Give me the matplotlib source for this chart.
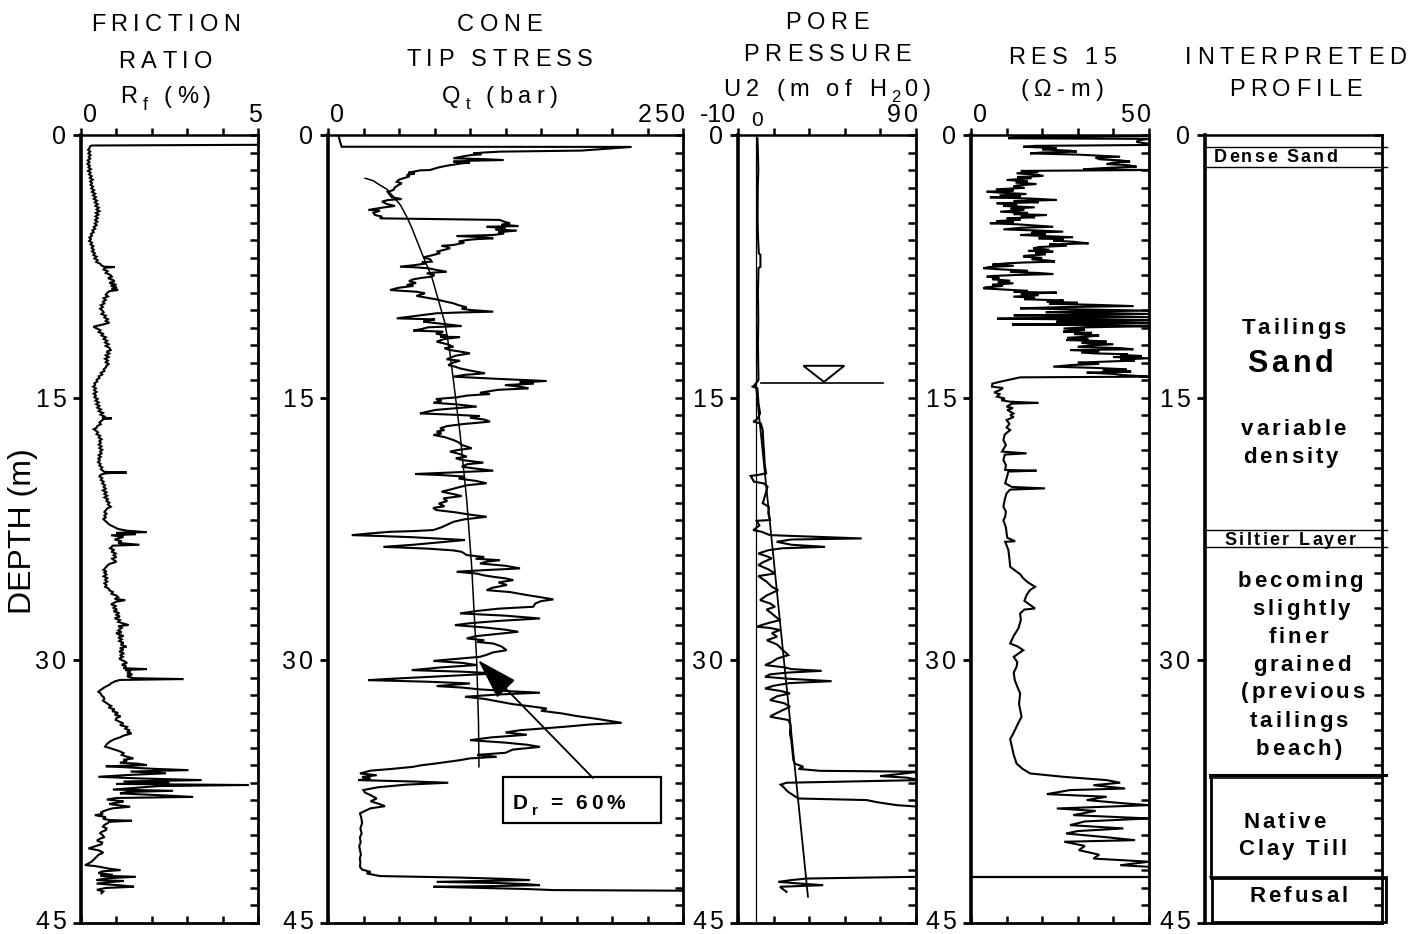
import matplotlib
matplotlib.use("Agg")
import matplotlib.pyplot as plt
from matplotlib.ticker import MultipleLocator, FixedLocator, NullFormatter
from matplotlib.patches import Rectangle, Polygon
from matplotlib.transforms import IdentityTransform, blended_transform_factory
from matplotlib.font_manager import FontProperties, findfont
from matplotlib import ft2font

FAMILY = ['Liberation Sans', 'DejaVu Sans']
plt.rcParams['font.family'] = FAMILY

# ------------------------------------------------------------------
# CPT sounding data: (depth m, value)
# ------------------------------------------------------------------
friction_ratio = [
    (0.50, 5.6), (0.56, 5.0), (0.60, 0.30), (0.66, 0.25), (0.76, 0.24), (0.85, 0.20), (0.95, 0.26),
    (1.05, 0.21), (1.15, 0.27), (1.25, 0.22), (1.35, 0.26), (1.45, 0.19), (1.55, 0.24), (1.65, 0.18),
    (1.75, 0.25), (1.85, 0.21), (1.95, 0.28), (2.05, 0.20), (2.15, 0.27), (2.25, 0.23), (2.35, 0.30),
    (2.45, 0.25), (2.55, 0.33), (2.65, 0.26), (2.75, 0.31), (2.85, 0.27), (2.95, 0.34), (3.05, 0.29),
    (3.15, 0.37), (3.25, 0.31), (3.35, 0.40), (3.45, 0.34), (3.55, 0.42), (3.65, 0.36), (3.75, 0.45),
    (3.85, 0.39), (3.95, 0.47), (4.05, 0.41), (4.15, 0.50), (4.25, 0.44), (4.35, 0.52), (4.45, 0.42),
    (4.55, 0.49), (4.65, 0.41), (4.75, 0.47), (4.85, 0.40), (4.95, 0.46), (5.05, 0.39), (5.15, 0.44),
    (5.25, 0.36), (5.35, 0.40), (5.45, 0.32), (5.55, 0.36), (5.65, 0.28), (5.75, 0.31), (5.85, 0.24),
    (5.95, 0.28), (6.05, 0.23), (6.15, 0.31), (6.25, 0.27), (6.35, 0.35), (6.45, 0.30), (6.55, 0.36),
    (6.65, 0.31), (6.75, 0.39), (6.85, 0.35), (6.95, 0.44), (7.05, 0.38), (7.15, 0.47), (7.25, 0.43),
    (7.35, 0.54), (7.45, 0.58), (7.52, 0.65), (7.54, 0.95), (7.58, 0.68), (7.68, 0.64), (7.78, 0.75),
    (7.88, 0.70), (7.98, 0.82), (8.09, 0.87), (8.18, 0.76), (8.28, 0.90), (8.35, 0.95), (8.45, 0.80),
    (8.55, 1.00), (8.62, 0.84), (8.72, 1.02), (8.80, 0.86), (8.85, 1.05), (8.92, 0.80), (9.02, 0.74),
    (9.12, 0.70), (9.22, 0.76), (9.32, 0.64), (9.42, 0.70), (9.52, 0.62), (9.62, 0.66), (9.72, 0.56),
    (9.82, 0.62), (9.92, 0.54), (10.02, 0.60), (10.12, 0.64), (10.22, 0.58), (10.32, 0.70),
    (10.42, 0.66), (10.52, 0.76), (10.62, 0.70), (10.72, 0.80), (10.80, 0.66), (10.88, 0.50),
    (10.95, 0.35), (11.05, 0.45), (11.15, 0.55), (11.25, 0.50), (11.35, 0.62), (11.45, 0.58),
    (11.55, 0.70), (11.65, 0.64), (11.75, 0.74), (11.85, 0.68), (11.95, 0.78), (12.05, 0.70),
    (12.15, 0.80), (12.28, 0.84), (12.38, 0.72), (12.48, 0.80), (12.58, 0.70), (12.68, 0.78),
    (12.78, 0.68), (12.88, 0.76), (12.98, 0.70), (13.08, 0.78), (13.18, 0.72), (13.28, 0.70),
    (13.38, 0.64), (13.48, 0.66), (13.58, 0.56), (13.68, 0.60), (13.78, 0.50), (13.88, 0.52),
    (13.98, 0.44), (14.08, 0.46), (14.18, 0.38), (14.28, 0.40), (14.37, 0.34), (14.47, 0.42),
    (14.57, 0.37), (14.67, 0.44), (14.77, 0.36), (14.87, 0.42), (14.97, 0.38), (15.07, 0.47),
    (15.17, 0.41), (15.27, 0.50), (15.37, 0.43), (15.47, 0.52), (15.57, 0.46), (15.67, 0.56),
    (15.77, 0.50), (15.87, 0.62), (15.97, 0.55), (16.07, 0.66), (16.15, 0.60), (16.18, 0.87),
    (16.22, 0.64), (16.32, 0.58), (16.42, 0.52), (16.52, 0.56), (16.62, 0.46), (16.72, 0.44),
    (16.80, 0.36), (16.88, 0.42), (16.98, 0.48), (17.08, 0.44), (17.18, 0.54), (17.28, 0.50),
    (17.38, 0.58), (17.48, 0.52), (17.58, 0.56), (17.68, 0.50), (17.78, 0.58), (17.88, 0.52),
    (17.98, 0.60), (18.08, 0.54), (18.18, 0.58), (18.28, 0.50), (18.38, 0.56), (18.48, 0.49),
    (18.58, 0.53), (18.68, 0.48), (18.78, 0.55), (18.88, 0.52), (18.98, 0.60), (19.08, 0.56),
    (19.18, 0.62), (19.24, 0.66), (19.27, 1.29), (19.32, 0.70), (19.40, 0.56), (19.50, 0.52),
    (19.60, 0.60), (19.70, 0.56), (19.80, 0.64), (19.90, 0.60), (20.00, 0.68), (20.10, 0.64),
    (20.20, 0.70), (20.30, 0.62), (20.40, 0.72), (20.50, 0.66), (20.60, 0.74), (20.70, 0.66),
    (20.80, 0.76), (20.90, 0.72), (21.00, 0.80), (21.10, 0.76), (21.23, 0.84), (21.33, 0.74),
    (21.43, 0.70), (21.53, 0.66), (21.63, 0.72), (21.73, 0.66), (21.83, 0.70), (21.93, 0.63),
    (21.99, 0.66), (22.1, 0.72), (22.25, 0.80), (22.37, 0.92), (22.5, 1.05), (22.6, 1.30),
    (22.68, 1.85), (22.72, 1.00), (22.8, 1.55), (22.86, 0.85), (22.95, 1.20), (23.1, 0.95),
    (23.2, 1.15), (23.3, 1.05), (23.4, 1.65), (23.45, 0.90), (23.6, 0.82), (23.7, 0.94), (23.8, 0.86),
    (23.9, 0.98), (24.0, 0.92), (24.1, 1.00), (24.2, 0.88), (24.37, 1.00), (24.5, 0.80), (24.6, 0.74),
    (24.7, 0.70), (24.84, 0.63), (24.92, 0.72), (25.0, 0.66), (25.1, 0.72), (25.2, 0.64), (25.3, 0.74),
    (25.4, 0.68), (25.5, 0.74), (25.6, 0.66), (25.7, 0.72), (25.8, 0.68), (25.9, 0.78), (26.0, 0.80),
    (26.1, 0.90), (26.2, 0.86), (26.3, 1.00), (26.4, 1.05), (26.5, 0.95), (26.56, 1.25), (26.65, 1.00),
    (26.75, 0.90), (26.8, 0.85), (26.9, 0.98), (27.0, 0.92), (27.1, 1.02), (27.2, 0.92), (27.3, 1.08),
    (27.4, 1.00), (27.5, 1.10), (27.6, 0.95), (27.7, 1.10), (27.8, 1.05), (27.9, 1.20), (27.98, 1.34),
    (28.05, 1.05), (28.15, 1.15), (28.3, 1.05), (28.4, 1.15), (28.45, 0.99), (28.55, 1.10),
    (28.6, 1.20), (28.7, 1.05), (28.8, 1.15), (28.9, 1.08), (29.0, 1.20), (29.1, 1.12), (29.22, 1.29),
    (29.3, 1.10), (29.4, 1.20), (29.5, 1.08), (29.6, 1.22), (29.7, 1.10), (29.8, 1.18), (29.9, 1.08),
    (29.98, 1.15), (30.08, 1.25), (30.15, 1.30), (30.25, 1.15), (30.35, 1.28), (30.45, 1.20),
    (30.5, 1.86), (30.55, 1.25), (30.65, 1.40), (30.75, 1.30), (30.8, 1.45), (30.9, 1.30),
    (30.95, 1.35), (31.02, 1.50), (31.07, 2.89), (31.12, 1.10), (31.2, 0.96), (31.3, 0.86),
    (31.4, 0.80), (31.5, 0.70), (31.6, 0.62), (31.7, 0.55), (31.8, 0.49), (31.9, 0.56), (32.0, 0.58),
    (32.1, 0.64), (32.2, 0.66), (32.3, 0.62), (32.45, 0.73), (32.55, 0.80), (32.6, 0.85), (32.7, 0.78),
    (32.8, 0.95), (32.9, 0.88), (33.0, 1.05), (33.1, 0.95), (33.2, 1.12), (33.3, 1.00), (33.4, 0.98),
    (33.5, 1.08), (33.6, 1.20), (33.7, 1.10), (33.8, 1.30), (33.9, 1.25), (34.0, 1.38), (34.1, 1.30),
    (34.17, 1.43), (34.3, 1.20), (34.4, 1.10), (34.5, 0.95), (34.6, 0.85), (34.7, 0.78), (34.8, 0.72),
    (34.93, 0.68), (35.0, 0.80), (35.1, 0.95), (35.2, 1.10), (35.3, 1.20), (35.4, 1.15), (35.5, 1.29),
    (35.6, 1.48), (35.68, 1.20), (35.75, 1.30), (35.85, 1.10), (35.9, 1.60), (35.98, 1.86),
    (36.05, 0.70), (36.1, 1.20), (36.2, 2.10), (36.27, 3.03), (36.35, 1.40), (36.45, 2.40),
    (36.55, 1.30), (36.65, 0.49), (36.74, 1.60), (36.84, 3.41), (36.92, 1.20), (37.0, 2.50),
    (37.06, 1.00), (37.12, 4.73), (37.18, 2.20), (37.3, 1.40), (37.38, 0.90), (37.45, 2.60),
    (37.52, 1.30), (37.6, 1.10), (37.7, 2.20), (37.8, 3.17), (37.86, 1.00), (37.95, 0.73),
    (38.05, 1.20), (38.1, 1.10), (38.2, 0.80), (38.25, 0.95), (38.36, 1.39), (38.45, 0.90),
    (38.5, 0.80), (38.6, 0.65), (38.7, 0.55), (38.78, 0.62), (38.84, 0.39), (38.95, 0.70),
    (39.05, 0.62), (39.12, 0.80), (39.16, 1.43), (39.22, 0.80), (39.3, 0.75), (39.4, 0.66),
    (39.5, 0.62), (39.6, 0.72), (39.7, 0.70), (39.8, 0.58), (39.87, 0.54), (40.0, 0.62), (40.1, 0.65),
    (40.2, 0.52), (40.3, 0.45), (40.4, 0.60), (40.5, 0.58), (40.62, 0.40), (40.74, 0.21),
    (40.85, 0.50), (40.98, 0.63), (41.1, 0.50), (41.2, 0.45), (41.3, 0.40), (41.4, 0.35),
    (41.5, 0.30), (41.55, 0.25), (41.62, 0.20), (41.69, 0.11), (41.75, 0.40), (41.8, 0.55),
    (41.9, 0.80), (41.98, 1.12), (42.05, 0.60), (42.15, 0.49), (42.25, 0.90), (42.3, 0.55),
    (42.36, 1.55), (42.45, 0.70), (42.55, 0.44), (42.6, 1.20), (42.65, 0.90), (42.75, 0.44),
    (42.85, 1.10), (42.93, 1.50), (43.0, 0.70), (43.1, 0.45), (43.2, 0.63), (43.3, 0.58),
]

cone_tip = [
    (0.00, 7.3), (0.38, 8.5), (0.67, 9.6), (0.68, 213.8), (0.89, 178.6), (0.95, 121.1), (1.00, 110.0),
    (1.05, 102.3), (1.10, 108.0), (1.14, 101.2), (1.22, 95.0), (1.33, 88.3), (1.38, 110.0),
    (1.43, 123.5), (1.47, 100.0), (1.52, 88.3), (1.58, 100.0), (1.62, 94.1), (1.75, 84.0),
    (1.85, 78.0), (2.00, 71.8), (2.02, 64.8), (2.10, 60.0), (2.15, 56.6), (2.20, 61.0), (2.28, 55.4),
    (2.36, 57.5), (2.47, 53.1), (2.55, 50.0), (2.67, 48.4), (2.76, 52.0), (2.86, 49.5), (3.00, 47.0),
    (3.14, 46.0), (3.25, 42.0), (3.43, 43.7), (3.55, 45.0), (3.66, 51.9), (3.71, 42.5), (3.80, 38.0),
    (3.94, 41.3), (4.05, 47.2), (4.15, 38.0), (4.28, 28.4), (4.32, 36.6), (4.45, 32.0), (4.57, 33.1),
    (4.66, 38.0), (4.76, 36.6), (4.85, 121.1), (4.95, 124.0), (5.04, 128.2), (5.12, 122.0),
    (5.20, 134.0), (5.24, 111.7), (5.32, 125.0), (5.40, 118.0), (5.46, 132.9), (5.55, 120.0),
    (5.63, 124.0), (5.71, 116.4), (5.77, 90.6), (5.84, 110.0), (5.90, 116.4), (5.95, 104.0),
    (6.00, 97.7), (6.08, 92.0), (6.15, 96.0), (6.28, 88.3), (6.33, 80.0), (6.38, 83.6), (6.47, 86.0),
    (6.57, 81.2), (6.66, 76.5), (6.75, 79.0), (6.85, 74.2), (6.93, 70.0), (6.99, 67.1), (7.10, 72.0),
    (7.23, 73.0), (7.28, 66.0), (7.33, 69.5), (7.42, 62.0), (7.52, 50.7), (7.56, 62.0), (7.61, 70.7),
    (7.70, 76.0), (7.81, 83.6), (7.86, 74.0), (7.90, 69.5), (8.00, 75.0), (8.09, 73.0), (8.16, 66.0),
    (8.24, 60.1), (8.35, 57.0), (8.45, 62.0), (8.57, 55.4), (8.62, 60.1), (8.72, 50.0), (8.85, 43.7),
    (8.90, 52.0), (8.95, 62.4), (9.04, 68.3), (9.12, 65.0), (9.19, 62.4), (9.30, 70.0), (9.39, 76.5),
    (9.50, 82.0), (9.61, 88.3), (9.72, 92.0), (9.84, 97.7), (9.92, 94.0), (9.99, 100.0),
    (10.09, 116.4), (10.13, 95.0), (10.18, 76.5), (10.30, 65.0), (10.40, 55.0), (10.47, 48.4),
    (10.53, 75.4), (10.60, 70.0), (10.66, 67.1), (10.78, 80.0), (10.91, 94.1), (10.98, 70.7),
    (11.08, 66.0), (11.17, 60.1), (11.23, 81.2), (11.35, 76.0), (11.45, 84.0), (11.52, 78.9),
    (11.54, 93.0), (11.65, 82.0), (11.80, 76.5), (11.95, 84.0), (12.09, 88.3), (12.18, 82.0),
    (12.28, 85.9), (12.38, 94.0), (12.47, 100.0), (12.60, 90.0), (12.72, 86.0), (12.81, 83.6),
    (12.89, 93.0), (13.00, 88.0), (13.14, 84.7), (13.24, 90.0), (13.33, 93.0), (13.45, 100.0),
    (13.61, 110.6), (13.70, 96.0), (13.80, 88.3), (13.92, 118.0), (14.05, 154.0), (14.12, 135.0),
    (14.20, 145.0), (14.28, 124.6), (14.38, 136.0), (14.47, 141.1), (14.55, 120.0), (14.65, 112.0),
    (14.72, 107.0), (14.79, 114.1), (14.88, 98.0), (14.98, 90.6), (15.08, 76.0), (15.18, 80.0),
    (15.29, 74.2), (15.38, 90.0), (15.51, 104.7), (15.60, 90.0), (15.70, 76.0), (15.80, 70.0),
    (15.90, 64.8), (15.98, 90.0), (16.05, 107.0), (16.15, 100.0), (16.25, 110.0), (16.37, 114.1),
    (16.50, 96.0), (16.62, 84.0), (16.75, 78.9), (16.85, 82.0), (16.94, 76.5), (17.05, 80.0),
    (17.13, 74.2), (17.25, 82.0), (17.42, 88.3), (17.55, 92.0), (17.70, 94.1), (17.80, 98.0),
    (17.89, 101.2), (17.98, 92.0), (18.08, 85.9), (18.20, 92.0), (18.37, 97.7), (18.46, 90.0),
    (18.56, 94.1), (18.64, 102.0), (18.71, 109.4), (18.80, 98.0), (18.94, 94.1), (19.05, 104.0),
    (19.17, 116.4), (19.26, 90.0), (19.36, 61.3), (19.42, 80.0), (19.51, 96.5), (19.62, 92.0),
    (19.75, 104.0), (19.89, 111.7), (20.00, 98.0), (20.12, 92.0), (20.25, 86.0), (20.37, 80.0),
    (20.50, 88.0), (20.62, 94.1), (20.70, 86.0), (20.75, 81.2), (20.90, 84.0), (21.05, 78.0),
    (21.20, 82.0), (21.30, 74.0), (21.42, 76.5), (21.55, 90.0), (21.68, 100.0), (21.80, 111.7),
    (21.95, 96.0), (22.09, 88.3), (22.25, 84.0), (22.40, 80.0), (22.56, 74.2), (22.62, 60.0),
    (22.66, 43.7), (22.75, 30.0), (22.85, 16.7), (22.90, 36.6), (22.97, 60.0), (23.04, 76.5),
    (23.13, 96.5), (23.25, 80.0), (23.40, 60.0), (23.52, 39.0), (23.62, 70.0), (23.72, 88.0),
    (23.80, 94.1), (23.99, 97.7), (24.10, 110.0), (24.20, 104.0), (24.28, 121.1), (24.36, 112.0),
    (24.47, 107.0), (24.60, 125.0), (24.75, 135.2), (24.85, 110.0), (24.94, 90.6), (25.05, 105.0),
    (25.15, 110.0), (25.23, 116.4), (25.32, 125.0), (25.42, 130.5), (25.55, 120.0), (25.70, 126.0),
    (25.85, 116.0), (25.99, 111.7), (26.10, 128.0), (26.27, 139.9), (26.40, 150.0), (26.52, 158.7),
    (26.62, 150.0), (26.75, 146.0), (26.94, 144.6), (27.05, 120.0), (27.18, 105.0), (27.32, 93.0),
    (27.45, 125.0), (27.61, 149.3), (27.75, 120.0), (27.88, 100.0), (27.99, 89.4), (28.12, 110.0),
    (28.25, 125.0), (28.37, 134.0), (28.50, 118.0), (28.62, 104.0), (28.75, 97.7), (28.85, 110.0),
    (28.95, 105.0), (29.04, 116.4), (29.20, 122.0), (29.42, 125.8), (29.55, 116.0), (29.68, 112.0),
    (29.80, 107.0), (29.92, 90.0), (30.03, 74.2), (30.15, 95.0), (30.27, 104.7), (30.40, 80.0),
    (30.56, 58.9), (30.65, 95.0), (30.75, 118.8), (30.85, 95.0), (30.95, 70.0), (31.05, 45.0),
    (31.13, 28.4), (31.22, 70.0), (31.32, 100.0), (31.40, 88.0), (31.47, 76.5), (31.56, 95.0),
    (31.66, 107.0), (31.75, 125.0), (31.85, 149.3), (31.95, 120.0), (32.08, 96.5), (32.20, 110.0),
    (32.37, 121.1), (32.50, 130.0), (32.62, 142.0), (32.75, 154.0), (32.88, 150.0), (33.03, 164.6),
    (33.18, 175.0), (33.35, 190.0), (33.57, 206.8), (33.66, 185.0), (33.80, 165.7), (33.90, 150.0),
    (33.99, 135.2), (34.12, 125.0), (34.25, 140.0), (34.40, 115.0), (34.56, 100.0), (34.70, 125.0),
    (34.82, 140.0), (34.94, 149.3), (35.10, 130.0), (35.28, 125.0), (35.40, 105.0), (35.51, 118.8),
    (35.60, 100.0), (35.70, 93.0), (35.80, 84.0), (35.90, 75.0), (36.00, 65.0), (36.08, 60.1),
    (36.20, 45.0), (36.30, 30.0), (36.46, 22.5), (36.56, 34.3), (36.66, 24.0), (36.75, 30.0),
    (36.84, 21.4), (36.92, 60.0), (36.99, 84.7), (37.10, 55.0), (37.25, 35.0), (37.41, 24.9),
    (37.55, 26.0), (37.70, 30.0), (37.89, 34.3), (38.05, 30.0), (38.20, 36.0), (38.33, 40.1),
    (38.45, 30.0), (38.60, 26.0), (38.74, 22.5), (39.00, 23.5), (39.30, 24.0), (39.60, 22.8),
    (39.89, 23.7), (40.10, 22.5), (40.40, 23.0), (40.60, 22.0), (40.84, 22.5), (41.10, 23.2),
    (41.30, 22.4), (41.55, 22.8), (41.79, 22.5), (41.95, 24.0), (42.08, 30.0), (42.17, 27.2),
    (42.32, 36.6), (42.40, 90.0), (42.48, 125.0), (42.55, 142.3), (42.60, 110.0), (42.65, 76.5),
    (42.72, 120.0), (42.78, 140.0), (42.84, 149.3), (42.90, 110.0), (42.93, 74.2), (43.00, 110.0),
    (43.06, 140.0), (43.12, 158.7), (43.16, 262.0),
]

# Qt trend for relative density Dr = 60 %
qt_dr60 = [
    (2.47, 26.1), (2.60, 31.5), (2.86, 36.6), (3.10, 41.5), (3.52, 46.0), (4.00, 51.0), (4.66, 55.4),
    (5.30, 59.0), (6.00, 62.4), (6.95, 67.1), (8.09, 73.0), (9.42, 77.7), (10.76, 82.4),
    (12.47, 85.9), (13.99, 88.3), (15.51, 90.6), (17.04, 93.0), (18.94, 95.3), (20.85, 97.7),
    (24.66, 101.2), (29.99, 104.7), (33.60, 106.0), (36.08, 106.3),
]

pore_pressure = [
    (0.19, 0.9), (1.0, 1.2), (2.0, 1.4), (3.0, 1.1), (4.85, 1.0), (6.0, 1.3), (6.76, 1.7), (6.85, 2.6),
    (7.52, 2.6), (7.60, 1.5), (9.0, 1.2), (10.57, 1.4), (12.0, 1.2), (13.99, 1.5), (14.28, -0.6),
    (14.37, -1.7), (14.47, 0.9), (15.32, 1.5), (15.90, 2.4), (16.20, 1.0), (16.37, -1.4), (16.47, 2.8),
    (16.85, 3.9), (17.5, 4.2), (18.18, 4.7), (18.8, 5.0), (19.32, 5.8), (19.40, 2.0), (19.47, -2.9),
    (19.80, -1.0), (19.89, 4.3), (20.08, 6.6), (20.50, 5.5), (21.03, 3.9), (21.23, 7.3), (21.60, 7.0),
    (21.99, 8.0), (22.03, 0.5), (22.30, 2.0), (22.56, -1.4), (22.66, 3.3), (22.85, 8.0), (23.04, 59.5),
    (23.10, 20.0), (23.23, 11.7), (23.40, 20.0), (23.52, 38.9), (23.60, 15.0), (23.71, 7.1),
    (23.90, 1.4), (24.05, 6.0), (24.18, 8.9), (24.40, 4.0), (24.56, 1.4), (24.80, 7.0), (25.04, 10.8),
    (25.19, 1.4), (25.50, 6.0), (25.80, 9.0), (25.99, 12.6), (26.30, 6.0), (26.56, 2.4), (26.75, 8.0),
    (26.94, 10.8), (27.10, 6.0), (27.32, 8.9), (27.50, 11.0), (27.70, 13.6), (27.90, 6.0),
    (28.08, 0.5), (28.15, 8.0), (28.27, 13.6), (28.45, 9.0), (28.65, 12.0), (28.85, 6.2),
    (29.10, 12.0), (29.40, 15.0), (29.70, 18.3), (29.90, 12.0), (30.10, 9.0), (30.27, 5.2),
    (30.40, 16.0), (30.50, 20.0), (30.60, 37.0), (30.70, 18.0), (30.80, 8.0), (30.94, 5.2),
    (31.05, 18.0), (31.19, 42.6), (31.30, 19.0), (31.45, 10.0), (31.61, 5.2), (31.75, 14.0),
    (31.89, 19.2), (32.05, 12.0), (32.27, 8.0), (32.45, 16.0), (32.65, 19.2), (32.90, 14.0),
    (33.10, 10.0), (33.22, 8.0), (33.41, 18.3), (33.70, 19.5), (34.17, 19.2), (34.60, 20.0),
    (35.10, 20.5), (35.70, 21.1), (35.90, 22.0), (36.08, 26.7), (36.20, 24.0), (36.31, 36.1),
    (36.36, 92.0), (36.50, 80.0), (36.61, 69.8), (36.70, 85.0), (36.84, 92.0), (36.99, 17.3),
    (37.10, 14.0), (37.22, 15.4), (37.50, 18.0), (37.89, 23.9), (37.98, 62.3), (38.10, 68.0),
    (38.27, 79.1), (38.36, 92.0), (38.50, 96.0), (42.30, 96.0), (42.36, 92.0), (42.46, 28.6),
    (42.55, 20.0), (42.65, 12.6), (42.75, 25.0), (42.84, 37.9), (42.93, 13.6), (43.05, 15.0),
    (43.22, 17.3),
]

hydrostatic = [(14.2, 0.0), (43.5, 29.3)]
water_table = 14.18

res15 = [
    (0.06, 50.0), (0.12, 12.0), (0.19, 10.5), (0.22, 50.0), (0.30, 47.0), (0.40, 46.5), (0.50, 50.0),
    (0.57, 50.0), (0.62, 18.0), (0.67, 14.7), (0.75, 24.0), (0.82, 20.0), (0.90, 28.0), (0.95, 29.7),
    (1.00, 20.0), (1.05, 16.6), (1.12, 30.0), (1.18, 36.0), (1.24, 41.9), (1.30, 35.0), (1.39, 36.2),
    (1.45, 42.0), (1.52, 44.7), (1.58, 40.0), (1.66, 38.1), (1.72, 44.0), (1.81, 46.5), (1.88, 38.0),
    (1.96, 31.5), (2.00, 50.0), (2.05, 14.0), (2.10, 19.0), (2.19, 12.8), (2.26, 18.5), (2.34, 20.3),
    (2.40, 13.0), (2.47, 17.0), (2.57, 10.0), (2.64, 16.0), (2.72, 12.5), (2.80, 18.4), (2.88, 13.0),
    (2.95, 11.9), (3.02, 15.0), (3.10, 7.0), (3.17, 12.0), (3.24, 4.4), (3.30, 9.0), (3.37, 15.6),
    (3.45, 8.0), (3.52, 14.0), (3.56, 5.3), (3.63, 17.0), (3.71, 24.1), (3.77, 12.0), (3.84, 19.0),
    (3.90, 7.2), (3.97, 13.0), (4.05, 9.0), (4.13, 17.9), (4.20, 11.0), (4.28, 15.0), (4.38, 8.2),
    (4.45, 16.0), (4.52, 12.0), (4.57, 21.3), (4.64, 14.0), (4.70, 18.0), (4.76, 10.0), (4.84, 14.0),
    (4.92, 7.0), (5.00, 12.0), (5.04, 5.3), (5.10, 13.0), (5.17, 18.0), (5.24, 23.1), (5.30, 14.0),
    (5.39, 9.1), (5.45, 18.0), (5.52, 25.9), (5.58, 17.0), (5.64, 21.0), (5.71, 13.8), (5.78, 22.0),
    (5.84, 28.7), (5.90, 19.0), (5.96, 26.0), (6.03, 23.1), (6.10, 29.0), (6.19, 33.0), (6.25, 22.0),
    (6.32, 27.0), (6.40, 19.0), (6.47, 17.5), (6.55, 22.0), (6.62, 16.0), (6.66, 23.1), (6.74, 18.0),
    (6.82, 21.0), (6.90, 15.0), (6.95, 14.7), (7.02, 20.0), (7.10, 17.0), (7.17, 22.0), (7.23, 23.6),
    (7.28, 15.0), (7.33, 10.0), (7.40, 6.0), (7.47, 12.0), (7.54, 5.0), (7.61, 3.5), (7.68, 9.0),
    (7.75, 16.0), (7.82, 11.0), (7.88, 19.0), (7.94, 23.1), (8.00, 12.0), (8.05, 6.0), (8.09, 4.4),
    (8.16, 8.0), (8.24, 6.0), (8.32, 11.0), (8.40, 7.5), (8.47, 11.9), (8.55, 6.0), (8.62, 9.0),
    (8.70, 4.0), (8.76, 3.5), (8.83, 10.0), (8.90, 16.0), (8.96, 12.0), (9.00, 24.1), (9.07, 14.0),
    (9.15, 19.0), (9.23, 11.9), (9.30, 18.0), (9.38, 15.0), (9.45, 26.0), (9.52, 21.3), (9.58, 30.0),
    (9.64, 22.0), (9.70, 35.0), (9.77, 45.6), (9.83, 25.0), (9.90, 13.8), (9.96, 30.0),
    (10.03, 50.0), (10.08, 28.0), (10.12, 21.0), (10.17, 38.0), (10.22, 50.0), (10.26, 30.0),
    (10.30, 12.0), (10.35, 34.0), (10.40, 50.0), (10.45, 20.0), (10.49, 7.3), (10.53, 30.0),
    (10.58, 50.0), (10.62, 35.0), (10.66, 24.0), (10.70, 40.0), (10.75, 50.0), (10.78, 30.0),
    (10.82, 11.5), (10.87, 36.0), (10.92, 50.0), (10.98, 33.0), (11.05, 26.0), (11.12, 32.0),
    (11.18, 28.0), (11.23, 25.9), (11.30, 34.0), (11.37, 29.0), (11.45, 36.0), (11.52, 32.5),
    (11.58, 27.0), (11.65, 33.0), (11.71, 26.7), (11.76, 35.0), (11.80, 38.1), (11.87, 31.0),
    (11.95, 40.0), (12.02, 33.0), (12.10, 30.0), (12.17, 42.0), (12.24, 45.6), (12.28, 27.8),
    (12.35, 36.0), (12.41, 31.0), (12.47, 34.4), (12.52, 44.0), (12.56, 41.9), (12.62, 48.0),
    (12.68, 40.0), (12.75, 50.0), (12.82, 42.0), (12.88, 46.0), (12.94, 38.1), (13.00, 30.0),
    (13.07, 36.0), (13.14, 28.0), (13.23, 23.1), (13.30, 35.0), (13.38, 43.8), (13.45, 37.0),
    (13.51, 45.0), (13.57, 32.5), (13.64, 40.0), (13.71, 42.8), (13.76, 47.0), (13.80, 50.0),
    (13.84, 13.8), (14.09, 8.2), (14.20, 6.0), (14.37, 5.9), (14.45, 9.0), (14.56, 8.2), (14.70, 6.5),
    (14.80, 8.0), (14.94, 7.3), (15.05, 9.5), (15.15, 8.5), (15.23, 11.0), (15.30, 18.9),
    (15.34, 11.5), (15.51, 10.0), (15.60, 11.8), (15.70, 10.2), (15.90, 11.9), (16.00, 11.0),
    (16.10, 12.0), (16.28, 10.0), (16.50, 10.8), (16.70, 10.0), (16.85, 11.0), (17.10, 9.5),
    (17.42, 9.1), (17.70, 9.8), (18.08, 8.7), (18.18, 15.6), (18.25, 9.5), (18.56, 9.1), (18.85, 9.8),
    (19.13, 9.6), (19.17, 18.4), (19.22, 10.5), (19.61, 10.0), (19.89, 9.6), (20.10, 11.5),
    (20.18, 20.8), (20.25, 11.0), (20.46, 10.0), (20.80, 9.5), (21.23, 9.1), (21.50, 9.8),
    (21.80, 9.6), (22.00, 9.1), (22.40, 9.8), (22.75, 10.0), (23.00, 10.2), (23.20, 12.4),
    (23.23, 9.6), (23.70, 10.5), (24.20, 10.8), (24.66, 11.0), (25.08, 13.8), (25.32, 14.7),
    (25.55, 16.0), (25.80, 18.0), (26.00, 16.5), (26.28, 15.6), (26.60, 15.0), (27.04, 18.0),
    (27.10, 15.0), (27.32, 13.8), (27.70, 14.0), (28.18, 13.3), (28.60, 12.0), (29.04, 11.0),
    (29.20, 13.0), (29.42, 14.7), (29.80, 12.0), (30.10, 13.0), (30.37, 12.8), (30.70, 12.0),
    (31.13, 12.3), (31.50, 13.0), (31.89, 13.8), (32.50, 13.5), (33.22, 14.2), (33.70, 13.0),
    (34.17, 11.9), (34.50, 11.0), (34.94, 11.5), (35.40, 12.0), (35.89, 12.8), (36.20, 14.5),
    (36.46, 16.6), (36.65, 25.9), (36.84, 38.1), (36.99, 41.9), (37.13, 34.4), (37.32, 43.3),
    (37.41, 27.8), (37.64, 21.3), (37.79, 38.1), (37.98, 32.5), (38.17, 43.2), (38.27, 50.0),
    (38.46, 24.1), (38.60, 35.0), (38.84, 28.7), (39.03, 50.0), (39.20, 32.0), (39.41, 27.8),
    (39.60, 42.8), (39.75, 30.0), (39.89, 26.7), (40.10, 38.0), (40.27, 46.1), (40.36, 26.2),
    (40.60, 32.0), (40.84, 30.3), (41.10, 36.0), (41.32, 34.4), (41.50, 50.0), (41.70, 41.9),
    (41.79, 50.0),
]
res_cutoff = 42.36

# Interpreted stratigraphy
dense_sand = (0.70, 1.85)
siltier_layer = (22.53, 23.55)
clay_till_top = 36.6
refusal_top = 42.45
profile_labels = [
    ("Dense Sand", 1.52, 13, -18), ("Tailings", 11.37, 16, 0), ("Sand", 13.52, 22, -3),
    ("variable", 17.13, 16, 0), ("density", 18.73, 16, -3), ("Siltier Layer", 23.42, 13, -3),
    ("becoming", 25.83, 16, 7), ("slightly", 27.41, 16, 8), ("finer", 29.03, 16, 5),
    ("grained", 30.59, 16, 8), ("(previous", 32.17, 16, 9), ("tailings", 33.79, 16, 5),
    ("beach)", 35.41, 16, 5), ("Native", 39.59, 16, -9), ("Clay Till", 41.12, 16, -1),
    ("Refusal", 43.79, 16, 5),
]

# ------------------------------------------------------------------
W, H, DPI = 1419, 934, 100
fig = plt.figure(figsize=(W / DPI, H / DPI), dpi=DPI)
fig.patch.set_facecolor('white')
IDT = IdentityTransform()

try:
    _NOHINT = ft2font.LoadFlags.NO_HINTING
except AttributeError:
    _NOHINT = ft2font.LOAD_NO_HINTING
_fonts = {}


def _advance(ch, size, weight):
    if weight not in _fonts:
        _fonts[weight] = ft2font.FT2Font(findfont(FontProperties(family='Liberation Sans', weight=weight)))
    f = _fonts[weight]
    f.set_size(size, DPI)
    return f.load_char(ord(ch), flags=_NOHINT).linearHoriAdvance / 65536.0


def spaced_text(x, y, parts, track=0.15, ha='center'):
    """Letter-spaced text; x, y in pixels from the top-left, y is the baseline."""
    glyphs, pos, gap = [], 0.0, 0.0
    for text, size, dy, weight in parts:
        gap = track * size * DPI / 72.0
        for ch in text:
            glyphs.append((pos, ch, size, dy, weight))
            pos += _advance(ch, size, weight) + gap
    width = pos - gap
    x0 = {'center': x - width / 2, 'left': x, 'right': x - width}[ha]
    for off, ch, size, dy, weight in glyphs:
        if ch == ' ':
            continue
        fig.text(x0 + off, H - (y + dy), ch, transform=IDT, fontsize=size,
                 fontweight=weight, ha='left', va='baseline', family=FAMILY)


TOP, BOT = 135, 923
panels_px = [(81, 258), (328, 683), (738, 916), (971, 1149), (1205, 1382)]
xlims = [(0, 5), (0, 250), (-10, 90), (0, 50), (0, 1)]
xticks = [list(range(0, 6)), list(range(0, 251, 25)), list(range(-10, 91, 20)),
          list(range(0, 51, 10)), []]

axes = []
for (x0, x1), lim, tks in zip(panels_px, xlims, xticks):
    ax = fig.add_axes([x0 / W, 1 - BOT / H, (x1 - x0) / W, (BOT - TOP) / H])
    ax.set_xlim(*lim)
    ax.set_ylim(45, 0)
    ax.yaxis.set_major_locator(FixedLocator([0, 15, 30, 45]))
    ax.yaxis.set_minor_locator(MultipleLocator(1))
    ax.yaxis.remove_overlapping_locs = False
    ax.yaxis.set_major_formatter(NullFormatter())
    ax.tick_params(axis='y', which='major', left=True, right=False, direction='out',
                   length=6, width=2.0, labelleft=False)
    ax.tick_params(axis='y', which='minor', left=False, right=True, direction='in',
                   length=6, width=1.8)
    ax.set_xticks(tks)
    ax.tick_params(axis='x', which='both', bottom=bool(tks), top=False, direction='in',
                   length=5, width=1.8, labelbottom=False)
    if tks:
        sec = ax.secondary_xaxis('top')
        sec.set_xticks(tks)
        sec.tick_params(axis='x', direction='out', length=5, width=1.8, labeltop=False)
        sec.spines['top'].set_visible(False)
    ax.spines['left'].set_linewidth(2.6)
    ax.spines['right'].set_linewidth(2.0)
    ax.spines['top'].set_linewidth(1.8)
    ax.spines['bottom'].set_linewidth(2.0)
    for lab, d in zip(['0', '15', '30', '45'], [0, 15, 30, 45]):
        yb = min(TOP + d * (BOT - TOP) / 45 + 9, 929)
        spaced_text(x0 - 15, yb, [(lab, 18, 0, 'normal')], track=0.12, ha='right')
    axes.append(ax)

ax1, ax2, ax3, ax4, ax5 = axes
LW = 1.5

d, v = zip(*friction_ratio)
ax1.plot(v, d, color='k', lw=LW, solid_joinstyle='miter')

d, v = zip(*cone_tip)
ax2.plot(v, d, color='k', lw=LW, solid_joinstyle='miter')
d, v = zip(*qt_dr60)
ax2.plot(v, d, color='k', lw=1.1)
ax2.annotate('', xy=(v[-3] + 1, d[-3]), xytext=(186.6, 36.72),
             arrowprops=dict(arrowstyle='-|>,head_length=1.3,head_width=0.4', mutation_scale=20,
                             lw=1.3, color='k', shrinkA=0, shrinkB=0))
ax2.add_patch(Rectangle((123, 36.65), 111.5, 2.63, fill=False, lw=1.6, ec='k'))
spaced_text(513, 809, [('D', 15, 0, 'bold'), ('r', 11, 6, 'bold'), (' = 60%', 15, 0, 'bold')],
            track=0.18, ha='left')

ax3.axvline(0, color='k', lw=0.9)
d, v = zip(*pore_pressure)
ax3.plot(v, d, color='k', lw=LW, solid_joinstyle='miter')
d, v = zip(*hydrostatic)
ax3.plot(v, d, color='k', lw=1.3)
ax3.plot([2.9, 71.3], [water_table, water_table], color='k', lw=1.2)
ax3.add_patch(Polygon([(26.7, water_table - 1.0), (49.7, water_table - 1.0), (38.3, water_table - 0.08)],
                      closed=True, fill=False, lw=1.4, ec='k'))

d, v = zip(*res15)
ax4.plot(v, d, color='k', lw=LW, solid_joinstyle='miter')
ax4.axhline(res_cutoff, color='k', lw=1.6)

# interpreted profile
tr = blended_transform_factory(ax5.transAxes, ax5.transData)
for dd in dense_sand + siltier_layer:
    ax5.plot([0.01, 1.027], [dd, dd], color='k', lw=1.0, transform=tr, clip_on=False)
ax5.plot([0.03, 1.02], [clay_till_top - 0.08, clay_till_top - 0.08], color='k', lw=2.2,
         transform=tr, clip_on=False)
ax5.plot([0.03, 1.0], [clay_till_top + 0.12, clay_till_top + 0.12], color='k', lw=1.2,
         transform=tr, clip_on=False)
ax5.plot([0.035, 0.035], [clay_till_top, refusal_top], color='k', lw=2.0, transform=tr)
ax5.add_patch(Rectangle((0.04, refusal_top), 0.985, 45 - refusal_top - 0.08, transform=tr,
                        fill=False, lw=2.0, ec='k', clip_on=False))
ax5.plot([0.03, 1.03], [refusal_top - 0.1, refusal_top - 0.1], color='k', lw=1.2,
         transform=tr, clip_on=False)
xc = sum(panels_px[4]) / 2
for text, dd, size, dx in profile_labels:
    yb = TOP + dd * (BOT - TOP) / 45
    spaced_text(xc + dx, yb, [(text, size, 0, 'bold')], track=0.13)

# column headings
titles = [
    [("FRICTION", 31), ("RATIO", 68), ([('R', 17, 0, 'normal'), ('f', 13, 7, 'normal'),
                                         (' (%)', 17, 0, 'normal')], 103)],
    [("CONE", 31), ("TIP STRESS", 66), ([('Q', 17, 0, 'normal'), ('t', 12, 6, 'normal'),
                                          (' (bar)', 17, 0, 'normal')], 103)],
    [("PORE", 29), ("PRESSURE", 61), ([('U2 (m of H', 17, 0, 'normal'), ('2', 12, 6, 'normal'),
                                        ('0)', 17, 0, 'normal')], 96)],
    [("RES 15", 64), ([('(\u03A9-m)', 17, 0, 'normal')], 96)],
    [("INTERPRETED", 64), ("PROFILE", 96)],
]
title_shift = [-4, -6, 0, 2, 2]
for (x0, x1), rows, sh in zip(panels_px, titles, title_shift):
    for text, yb in rows:
        parts = [(text, 17, 0, 'normal')] if isinstance(text, str) else text
        spaced_text((x0 + x1) / 2 + sh, yb, parts, track=0.23)

# x-axis end labels
TL = 122
spaced_text(81 + 2, TL, [('0', 18, 0, 'normal')], ha='left')
spaced_text(258 + 4, TL, [('5', 18, 0, 'normal')], ha='right')
spaced_text(328 + 2, TL, [('0', 18, 0, 'normal')], ha='left')
spaced_text(683 + 2, TL, [('250', 18, 0, 'normal')], track=0.12, ha='right')
fig.text(736, H - TL, '-10', transform=IDT, fontsize=18, ha='right', va='baseline', family=FAMILY)
spaced_text(757, TL + 4, [('0', 15, 0, 'normal')], ha='center')
spaced_text(916 + 2, TL, [('90', 18, 0, 'normal')], track=0.12, ha='right')
spaced_text(971 + 2, TL, [('0', 18, 0, 'normal')], ha='left')
spaced_text(1149 + 2, TL, [('50', 18, 0, 'normal')], track=0.12, ha='right')

fig.text(23, H - 531, 'DEPTH (m)', transform=IDT, rotation=90, fontsize=23,
         ha='center', va='center', family=FAMILY)

fig.savefig('out.png', dpi=DPI, facecolor='white')
